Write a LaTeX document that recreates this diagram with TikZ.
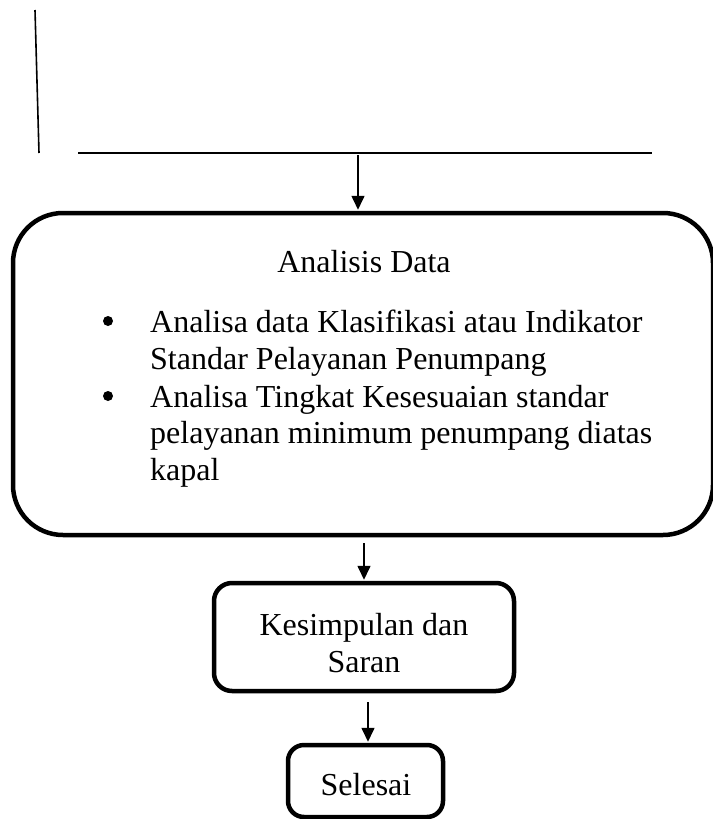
\documentclass[tikz,border=0pt]{standalone}
\usepackage{fontspec}
\setmainfont{Liberation Serif}
\usetikzlibrary{arrows.meta}
\begin{document}
\begin{tikzpicture}[x=1pt,y=-1pt,
  thinline/.style={line width=1.6pt},
  box/.style={draw, line width=4.5pt, rounded corners=#1, inner sep=0pt},
  arr/.style={line width=1.6pt, -{Triangle[width=13pt,length=14pt]}, shorten >=1pt},
  txt/.style={font=\fontsize{32}{38}\selectfont, inner sep=0pt},
  dot/.style={circle, fill, inner sep=0pt, minimum size=10pt}]
\useasboundingbox (0,0) rectangle (712,819);
% top lines
\coordinate (v1) at (35,10);
\coordinate (v2) at (39,153);
\draw[thinline] (v1) -- (v2);
\coordinate (h1) at (78,153);
\coordinate (h2) at (652,153);
\draw[thinline] (h1) -- (h2);
% big box
\node[box=50pt, minimum width=700pt, minimum height=322pt] (analisis) at (363,374) {};
\node[txt, anchor=base] (title) at (364,272) {Analisis Data};
\node[dot] (b1) at (108,321) {};
\node[txt, anchor=base west] (l1) at (150,332) {Analisa data Klasifikasi atau Indikator};
\node[txt, anchor=base west] (l2) at (150,369) {Standar Pelayanan Penumpang};
\node[dot] (b2) at (108,396) {};
\node[txt, anchor=base west] (l3) at (150,407) {Analisa Tingkat Kesesuaian standar};
\node[txt, anchor=base west] (l4) at (150,443) {pelayanan minimum penumpang diatas};
\node[txt, anchor=base west] (l5) at (150,480) {kapal};
% kesimpulan box
\node[box=18pt, minimum width=300pt, minimum height=108pt] (kes) at (364,637) {};
\node[txt, anchor=base] (k1) at (364,635) {Kesimpulan dan};
\node[txt, anchor=base] (k2) at (364,672) {Saran};
% selesai box
\node[box=16pt, minimum width=155pt, minimum height=72pt] (sel) at (365.5,781) {};
\node[txt, anchor=base] (s1) at (366,795) {Selesai};
% arrows
\coordinate (a1s) at (358,155);
\draw[arr] (a1s) -- (analisis.north -| a1s);
\coordinate (a2s) at (364,543);
\draw[arr] (a2s) -- (kes.north -| a2s);
\coordinate (a3s) at (368,702);
\draw[arr] (a3s) -- (sel.north -| a3s);
\end{tikzpicture}
\end{document}
